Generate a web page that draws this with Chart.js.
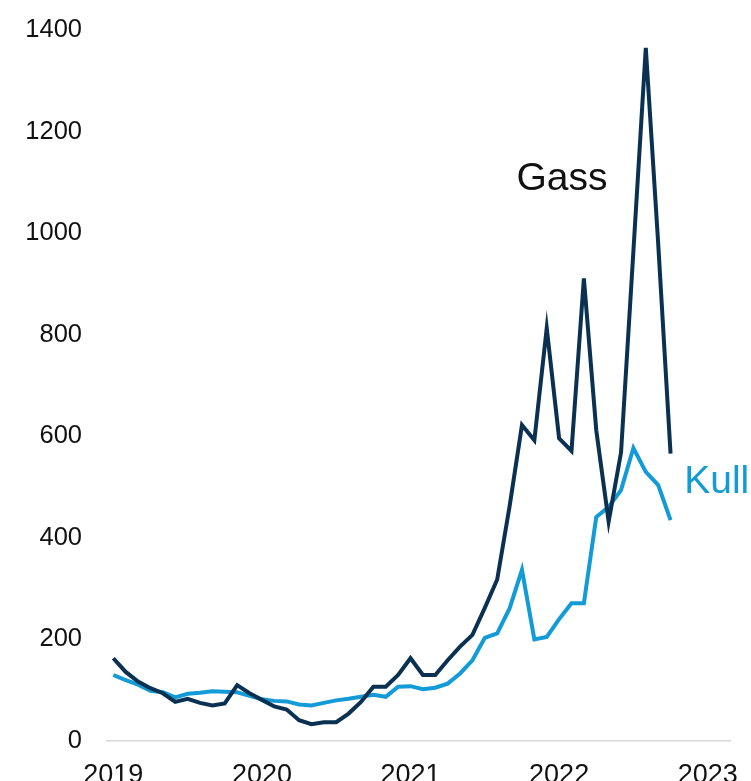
<!DOCTYPE html>
<html>
<head>
<meta charset="utf-8">
<script src="https://cdn.jsdelivr.net/npm/chart.js@4"></script>
<style>
  html, body { margin: 0; padding: 0; background: #fff; }
  #wrap { width: 751px; height: 781px; position: relative; }
</style>
</head>
<body>
<div id="wrap"><canvas id="chart"></canvas></div>
<script>
// Monthly values, Jan 2019 .. Oct 2022 (index 0 = Jan 2019)
const gass = [
  163, 136, 117, 104, 94, 77, 83, 75, 70, 74, 110, 94,
  81, 68, 62, 41, 33, 37, 37, 54, 77, 107, 107, 130,
  163, 130, 130, 159, 186, 209, 262, 318, 462, 622, 592, 813,
  596, 571, 911, 612, 432, 568, 965, 1365, 980, 566
];
const kull = [
  130, 120, 111, 99, 96, 86, 93, 95, 98, 97, 96, 89,
  82, 79, 78, 72, 70, 75, 80, 83, 87, 91, 87, 107,
  108, 102, 105, 113, 133, 159, 203, 212, 261, 337, 200, 205,
  240, 271, 271, 441, 461, 494, 577, 530, 504, 435
];
const yearLabels = ['2019', '2020', '2021', '2022', '2023'];
const yTicks = [0, 200, 400, 600, 800, 1000, 1200, 1400];

const GASS_COLOR = '#0a3152';
const KULL_COLOR = '#139bd7';
const FONT = 'Arial, "Liberation Sans", sans-serif';

const toPoints = (arr) => arr.map((v, i) => ({ x: i, y: v }));

// Series name labels placed in data coordinates
const seriesLabels = {
  id: 'seriesLabels',
  afterDatasetsDraw(chart) {
    const { ctx, scales } = chart;
    ctx.save();
    ctx.font = '39px ' + FONT;
    ctx.textAlign = 'left';
    ctx.textBaseline = 'alphabetic';
    ctx.fillStyle = '#111111';
    ctx.fillText('Gass', scales.x.getPixelForValue(32.55), scales.y.getPixelForValue(1085));
    ctx.fillStyle = KULL_COLOR;
    ctx.fillText('Kull', scales.x.getPixelForValue(46.1), scales.y.getPixelForValue(488));
    ctx.restore();
  }
};

new Chart(document.getElementById('chart').getContext('2d'), {
  type: 'line',
  data: {
    datasets: [
      {
        label: 'Gass',
        data: toPoints(gass),
        borderColor: GASS_COLOR,
        borderWidth: 4,
        pointRadius: 0,
        tension: 0,
        borderJoinStyle: 'miter'
      },
      {
        label: 'Kull',
        data: toPoints(kull),
        borderColor: KULL_COLOR,
        borderWidth: 4,
        pointRadius: 0,
        tension: 0,
        borderJoinStyle: 'miter'
      }
    ]
  },
  options: {
    responsive: true,
    maintainAspectRatio: false,
    animation: false,
    layout: { padding: { top: 30, right: 21, left: 0, bottom: 0 } },
    plugins: {
      legend: { display: false },
      tooltip: { enabled: false }
    },
    scales: {
      x: {
        type: 'linear',
        min: -0.51,
        max: 49.8,
        afterBuildTicks: (scale) => {
          scale.ticks = yearLabels.map((_, i) => ({ value: i * 12 }));
        },
        afterFit: (scale) => {
          scale.height = 40;
          scale.paddingLeft = 0;
          scale.paddingRight = 0;
        },
        grid: { display: false, drawTicks: false },
        border: { display: true, color: '#d6d6d6', width: 1.5 },
        ticks: {
          autoSkip: false,
          maxRotation: 0,
          padding: 18,
          color: '#111111',
          font: { family: FONT, size: 27 },
          callback: (value) => yearLabels[Math.round(value / 12)]
        }
      },
      y: {
        min: 0,
        max: 1400,
        afterBuildTicks: (scale) => {
          scale.ticks = yTicks.map((v) => ({ value: v }));
        },
        afterFit: (scale) => {
          scale.width = 107;
          scale.paddingTop = 0;
          scale.paddingBottom = 0;
        },
        grid: { display: false, drawTicks: false },
        border: { display: false },
        ticks: {
          padding: 25,
          color: '#111111',
          font: { family: FONT, size: 25.5 },
          callback: (value) => String(value)
        }
      }
    }
  },
  plugins: [seriesLabels]
});
</script>
</body>
</html>
